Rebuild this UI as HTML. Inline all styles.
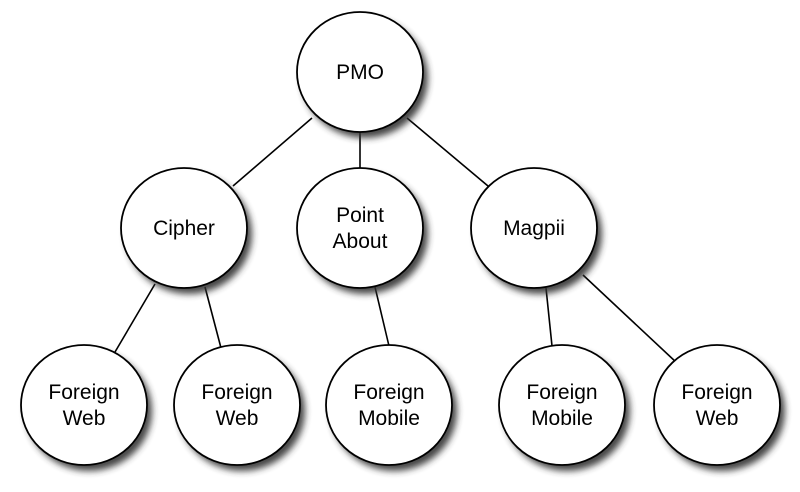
<!DOCTYPE html>
<html><head><style>body{margin:0;background:#fff}svg{display:block}</style></head><body>
<svg width="800" height="492" viewBox="0 0 800 492" xmlns="http://www.w3.org/2000/svg">
<defs><filter id="s" x="-30%" y="-30%" width="160%" height="160%"><feGaussianBlur stdDeviation="3.5"/></filter></defs>
<g stroke="#000" stroke-width="1.6">
<line x1="312" y1="118" x2="233" y2="186"/>
<line x1="360" y1="132" x2="360" y2="168"/>
<line x1="407" y1="118" x2="488" y2="186"/>
<line x1="155" y1="284" x2="115" y2="352"/>
<line x1="205" y1="287" x2="221" y2="348"/>
<line x1="375" y1="287" x2="389" y2="346"/>
<line x1="546" y1="288" x2="552" y2="346"/>
<line x1="583" y1="275" x2="677" y2="363"/>
</g>
<g fill="#333" opacity="0.9" filter="url(#s)">
<ellipse cx="365" cy="78" rx="63" ry="60"/>
<ellipse cx="189" cy="234" rx="63" ry="60"/>
<ellipse cx="365" cy="234" rx="63" ry="60"/>
<ellipse cx="539" cy="234" rx="63" ry="60"/>
<ellipse cx="89" cy="411" rx="63" ry="60"/>
<ellipse cx="242" cy="411" rx="63" ry="60"/>
<ellipse cx="394" cy="411" rx="63" ry="60"/>
<ellipse cx="567" cy="411" rx="63" ry="60"/>
<ellipse cx="722" cy="411" rx="63" ry="60"/>
</g>
<g fill="#fff" stroke="#000" stroke-width="1.8">
<ellipse cx="360" cy="72" rx="63" ry="60"/>
<ellipse cx="184" cy="228" rx="63" ry="60"/>
<ellipse cx="360" cy="228" rx="63" ry="60"/>
<ellipse cx="534" cy="228" rx="63" ry="60"/>
<ellipse cx="84" cy="405" rx="63" ry="60"/>
<ellipse cx="237" cy="405" rx="63" ry="60"/>
<ellipse cx="389" cy="405" rx="63" ry="60"/>
<ellipse cx="562" cy="405" rx="63" ry="60"/>
<ellipse cx="717" cy="405" rx="63" ry="60"/>
</g>
<g font-family="Liberation Sans, sans-serif" font-size="21" text-anchor="middle" fill="#000">
<text x="360" y="79">PMO</text>
<text x="184" y="235">Cipher</text>
<text x="360" y="222">Point</text><text x="360" y="248">About</text>
<text x="534" y="235">Magpii</text>
<text x="84" y="399">Foreign</text><text x="84" y="425">Web</text>
<text x="237" y="399">Foreign</text><text x="237" y="425">Web</text>
<text x="389" y="399">Foreign</text><text x="389" y="425">Mobile</text>
<text x="562" y="399">Foreign</text><text x="562" y="425">Mobile</text>
<text x="717" y="399">Foreign</text><text x="717" y="425">Web</text>
</g>
</svg>
</body></html>
